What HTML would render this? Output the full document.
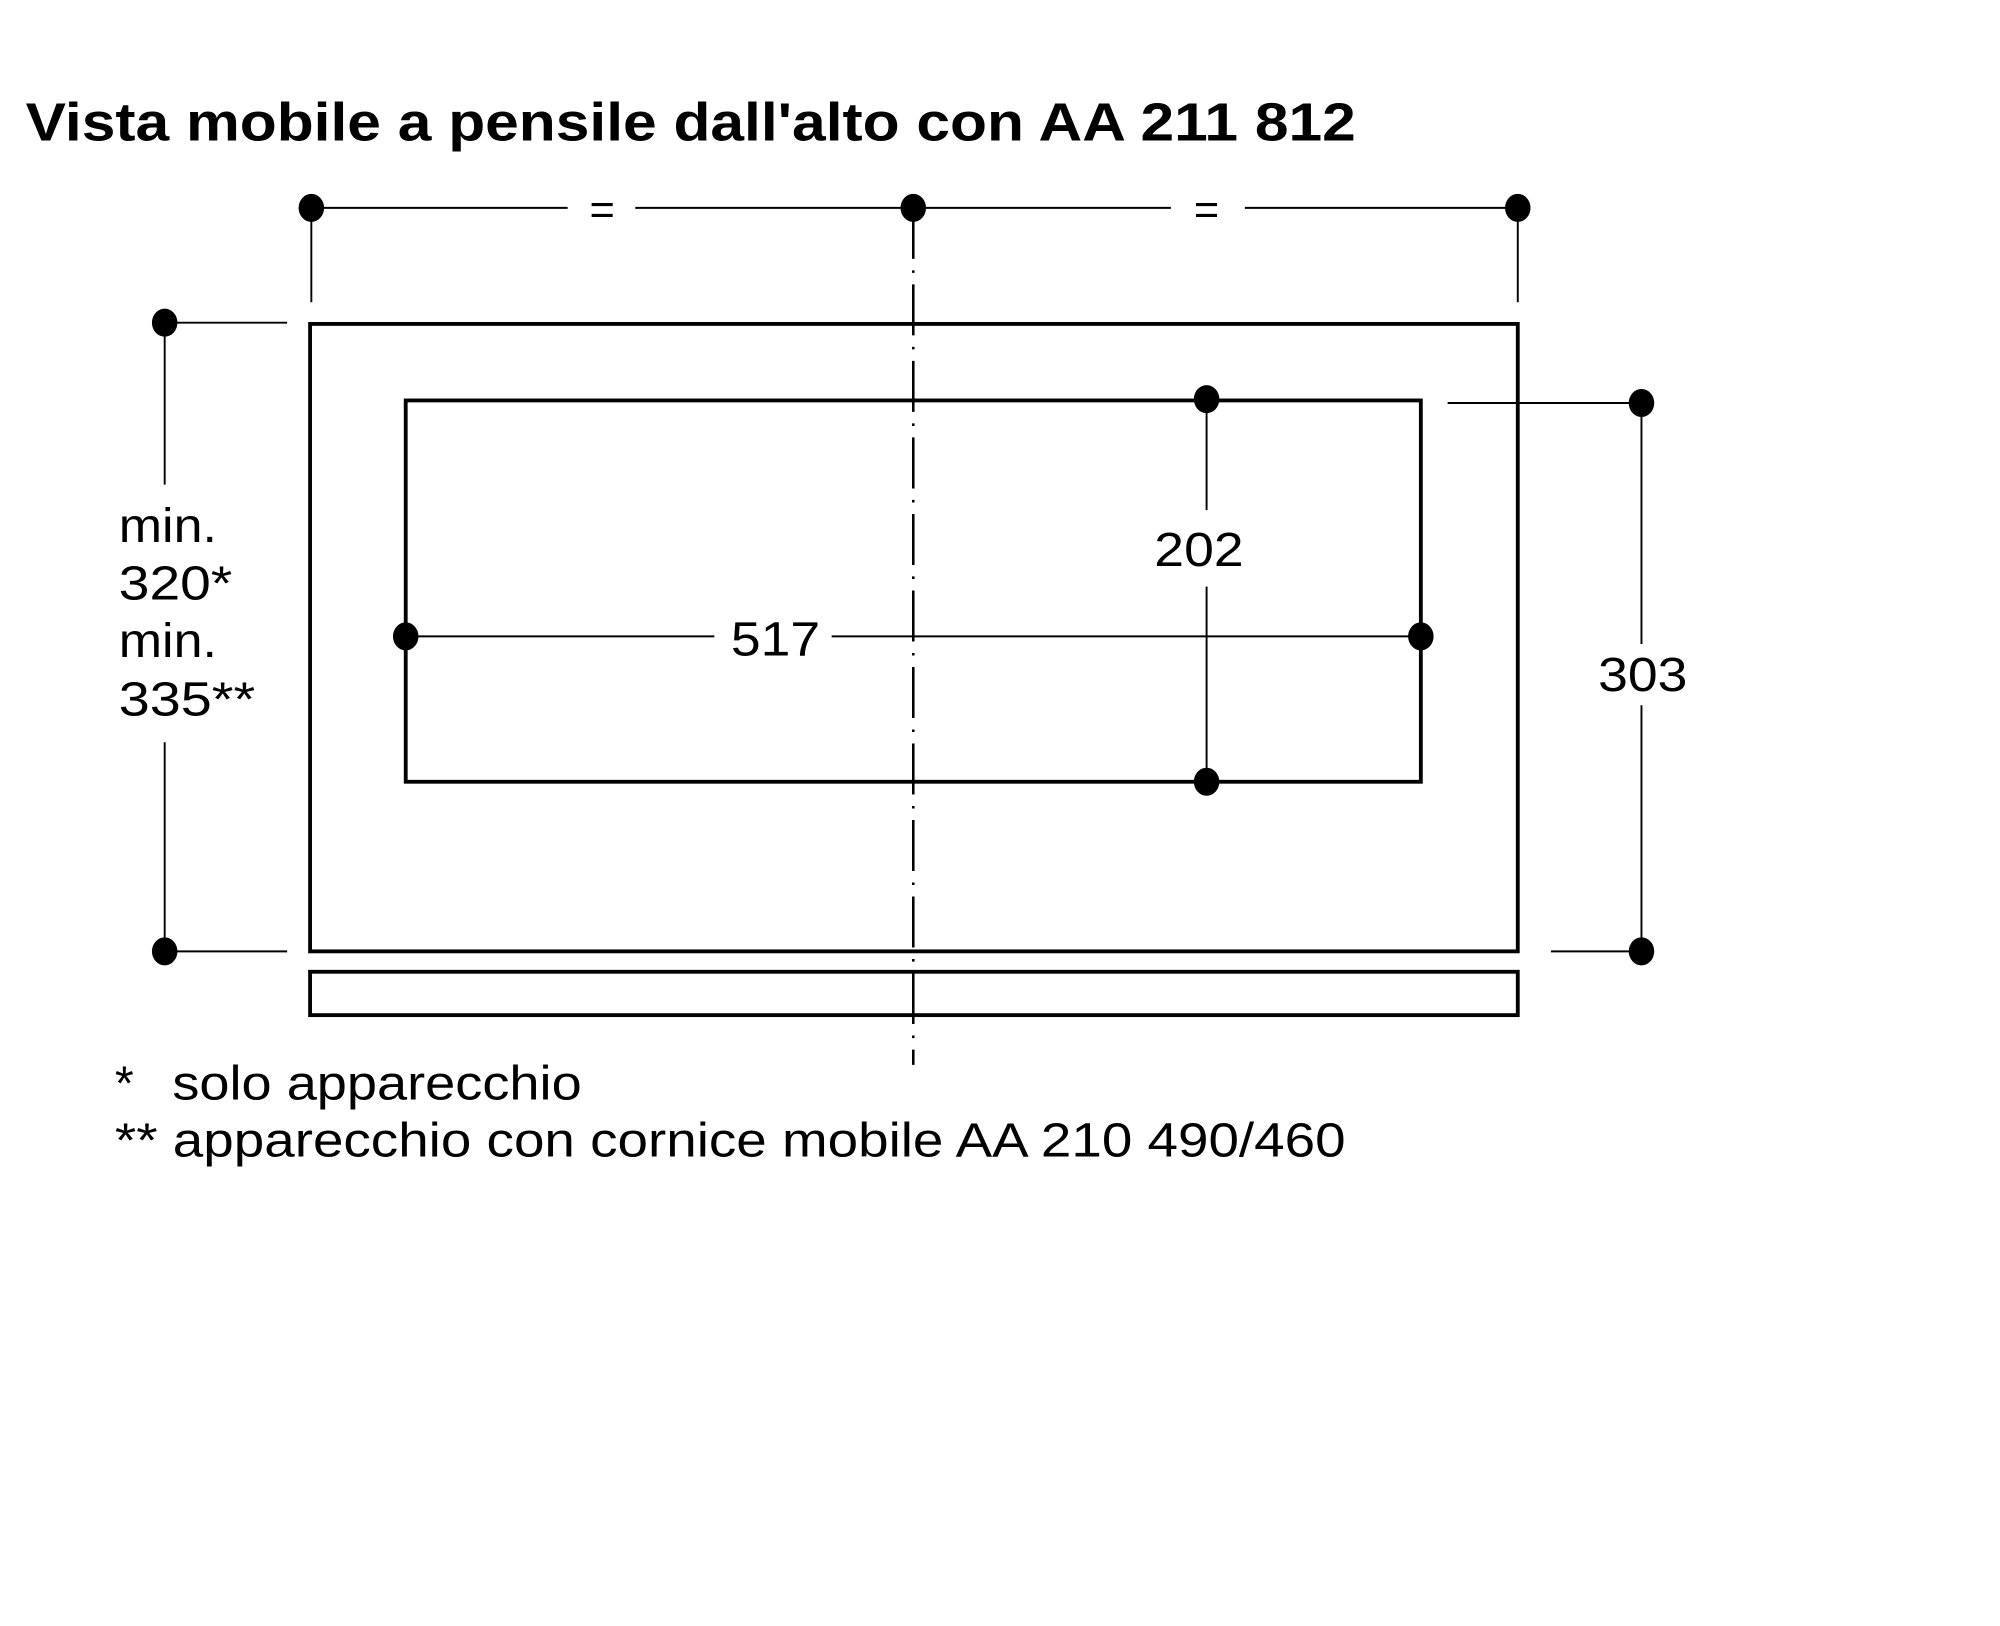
<!DOCTYPE html>
<html><head><meta charset="utf-8"><style>
html,body{margin:0;padding:0;background:#fff;}
svg{display:block;}
text{font-family:"Liberation Sans",sans-serif;fill:#000;}
</style></head><body>
<svg width="2000" height="1626" viewBox="0 0 1568 1275" xmlns="http://www.w3.org/2000/svg">
<text x="20" y="110" font-size="42" font-weight="bold" textLength="1043" lengthAdjust="spacingAndGlyphs">Vista mobile a pensile dall'alto con AA 211 812</text>
<g stroke="#000" fill="none" stroke-width="1.5">
<line x1="244" y1="163" x2="445" y2="163"/><line x1="498" y1="163" x2="716" y2="163"/>
<line x1="716" y1="163" x2="918" y2="163"/><line x1="976" y1="163" x2="1190" y2="163"/>
<line x1="244" y1="163" x2="244" y2="237"/><line x1="1190" y1="163" x2="1190" y2="237"/>
<line x1="716" y1="163" x2="716" y2="835" stroke-dasharray="40,9,2,9" stroke-width="2"/>
<line x1="129" y1="253" x2="225" y2="253"/><line x1="129" y1="746" x2="225" y2="746"/>
<line x1="129" y1="253" x2="129" y2="380"/><line x1="129" y1="582" x2="129" y2="746"/>
<line x1="1135" y1="316" x2="1287" y2="316"/><line x1="1216" y1="746" x2="1287" y2="746"/>
<line x1="1287" y1="316" x2="1287" y2="505"/><line x1="1287" y1="553" x2="1287" y2="746"/>
<line x1="318" y1="499" x2="560" y2="499"/><line x1="652" y1="499" x2="1114" y2="499"/>
<line x1="946" y1="313" x2="946" y2="400"/><line x1="946" y1="460" x2="946" y2="613"/>
</g>
<g stroke="#000" fill="none" stroke-width="3">
<rect x="243" y="254" width="947" height="492"/>
<rect x="318" y="314" width="796" height="299"/>
<rect x="243" y="762" width="947" height="34"/>
</g>
<g fill="#000">
<ellipse cx="244" cy="163" rx="10" ry="11"/><ellipse cx="716" cy="163" rx="10" ry="11"/><ellipse cx="1190" cy="163" rx="10" ry="11"/>
<ellipse cx="129" cy="253" rx="10" ry="11"/><ellipse cx="129" cy="746" rx="10" ry="11"/>
<ellipse cx="1287" cy="316" rx="10" ry="11"/><ellipse cx="1287" cy="746" rx="10" ry="11"/>
<ellipse cx="318" cy="499" rx="10" ry="11"/><ellipse cx="1114" cy="499" rx="10" ry="11"/>
<ellipse cx="946" cy="313" rx="10" ry="11"/><ellipse cx="946" cy="613" rx="10" ry="11"/>
</g>
<text x="472" y="176" font-size="34" text-anchor="middle">=</text>
<text x="946" y="176" font-size="34" text-anchor="middle">=</text>
<g font-size="38">
<text x="93" y="425" textLength="77" lengthAdjust="spacingAndGlyphs">min.</text>
<text x="93" y="470" textLength="89" lengthAdjust="spacingAndGlyphs">320*</text>
<text x="93" y="515" textLength="77" lengthAdjust="spacingAndGlyphs">min.</text>
<text x="93" y="561" textLength="107" lengthAdjust="spacingAndGlyphs">335**</text>
<text x="1253" y="542" textLength="70" lengthAdjust="spacingAndGlyphs">303</text>
<text x="573" y="514" textLength="70" lengthAdjust="spacingAndGlyphs">517</text>
<text x="905" y="444" textLength="70" lengthAdjust="spacingAndGlyphs">202</text>
<text x="90" y="862">*</text>
<text x="135" y="862" textLength="321" lengthAdjust="spacingAndGlyphs">solo apparecchio</text>
<text x="90" y="907" textLength="965" lengthAdjust="spacingAndGlyphs">** apparecchio con cornice mobile AA 210 490/460</text>
</g>
</svg>
</body></html>
